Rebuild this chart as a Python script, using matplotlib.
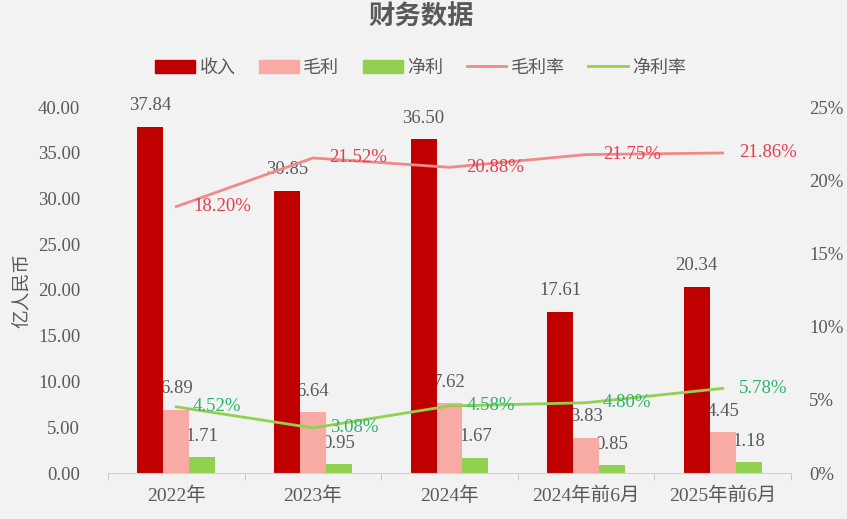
import numpy as np
import matplotlib.pyplot as plt

plt.rcParams['font.family'] = ['Liberation Serif', 'Noto Sans CJK SC']

# data
categories = ['2022年', '2023年', '2024年', '2024年前6月', '2025年前6月']
revenue = [37.84, 30.85, 36.50, 17.61, 20.34]
gross = [6.89, 6.64, 7.62, 3.83, 4.45]
net = [1.71, 0.95, 1.67, 0.85, 1.18]
gross_margin = [18.20, 21.52, 20.88, 21.75, 21.86]
net_margin = [4.52, 3.08, 4.58, 4.80, 5.78]

bg = '#f2f2f2'
c_rev = '#c00000'
c_gross = '#f7aba4'
c_net = '#92d050'
c_gm_line = '#f08a8a'
c_gm_text = '#e0404f'
c_nm_text = '#2eb36e'
c_text = '#595959'

fig = plt.figure(figsize=(8.47, 5.19), dpi=100, facecolor=bg)
ax = fig.add_axes([108/847, 1-473/519, 683/847, 366/519], facecolor=bg)
ax2 = ax.twinx()

x = np.arange(len(categories))
w = 0.19

ax.bar(x - w, revenue, w, color=c_rev, zorder=2)
ax.bar(x, gross, w, color=c_gross, zorder=2)
ax.bar(x + w, net, w, color=c_net, zorder=2)

for i in range(len(x)):
    ax.annotate(f'{revenue[i]:.2f}', (x[i] - w, revenue[i]), xytext=(0, 9),
                textcoords='offset points', ha='center', va='bottom',
                fontsize=13.5, color=c_text, zorder=1)
    ax.annotate(f'{gross[i]:.2f}', (x[i], gross[i]), xytext=(0, 9),
                textcoords='offset points', ha='center', va='bottom',
                fontsize=13.5, color=c_text, zorder=1)
    ax.annotate(f'{net[i]:.2f}', (x[i] + w, net[i]), xytext=(0, 9),
                textcoords='offset points', ha='center', va='bottom',
                fontsize=13.5, color=c_text, zorder=1)

ax.set_xlim(-0.5, len(x) - 0.5)
ax.set_ylim(0, 40)
ax.set_yticks(np.arange(0, 41, 5))
ax.set_yticklabels([f'{v:.2f}' for v in np.arange(0, 41, 5)])
ax.set_xticks(x)
ax.set_xticklabels(categories)
ax.set_xticks(np.arange(-0.5, len(x), 1), minor=True)
ax.tick_params(axis='x', which='major', length=0, pad=10, labelsize=14, labelcolor=c_text)
ax.tick_params(axis='x', which='minor', length=5, color='#bfbfbf', direction='out')
ax.tick_params(axis='y', length=0, pad=20, labelsize=13.5, labelcolor=c_text)
ax.set_ylabel('亿人民币', fontsize=13.5, color=c_text, labelpad=4)

for s in ['top', 'left', 'right']:
    ax.spines[s].set_visible(False)
    ax2.spines[s].set_visible(False)
ax.spines['bottom'].set_color('#d0d0d0')
ax2.spines['bottom'].set_visible(False)

gm = np.array(gross_margin) / 100
nm = np.array(net_margin) / 100
ax2.plot(x, gm, color=c_gm_line, lw=2)
ax2.plot(x, nm, color=c_net, lw=2)
for i in range(len(x)):
    ax2.annotate(f'{gross_margin[i]:.2f}%', (x[i], gm[i]), xytext=(12, 0),
                 textcoords='offset points', ha='left', va='center',
                 fontsize=13.5, color=c_gm_text)
    ax2.annotate(f'{net_margin[i]:.2f}%', (x[i], nm[i]), xytext=(12, 0),
                 textcoords='offset points', ha='left', va='center',
                 fontsize=13.5, color=c_nm_text)

ax2.set_ylim(0, 0.25)
ax2.set_yticks(np.arange(0, 0.26, 0.05))
ax2.set_yticklabels([f'{int(round(v*100))}%' for v in np.arange(0, 0.26, 0.05)])
ax2.tick_params(axis='y', length=0, pad=13, labelsize=13.5, labelcolor=c_text)

fig.text(0.497, 1 - 17/519, '财务数据', ha='center', va='center',
         fontsize=19, fontweight='bold', color=c_text)

handles = [
    plt.Rectangle((0, 0), 1, 1, color=c_rev),
    plt.Rectangle((0, 0), 1, 1, color=c_gross),
    plt.Rectangle((0, 0), 1, 1, color=c_net),
    plt.Line2D([], [], color=c_gm_line, lw=2),
    plt.Line2D([], [], color=c_net, lw=2),
]
labels = ['收入', '毛利', '净利', '毛利率', '净利率']
fig.legend(handles, labels, loc='center', bbox_to_anchor=(0.497, 1 - 68/519),
           ncol=5, frameon=False, fontsize=13, labelcolor=c_text,
           handlelength=2.2, handleheight=0.7, columnspacing=1.3, handletextpad=0.25)

fig.savefig('out.png', dpi=100, facecolor=bg)
